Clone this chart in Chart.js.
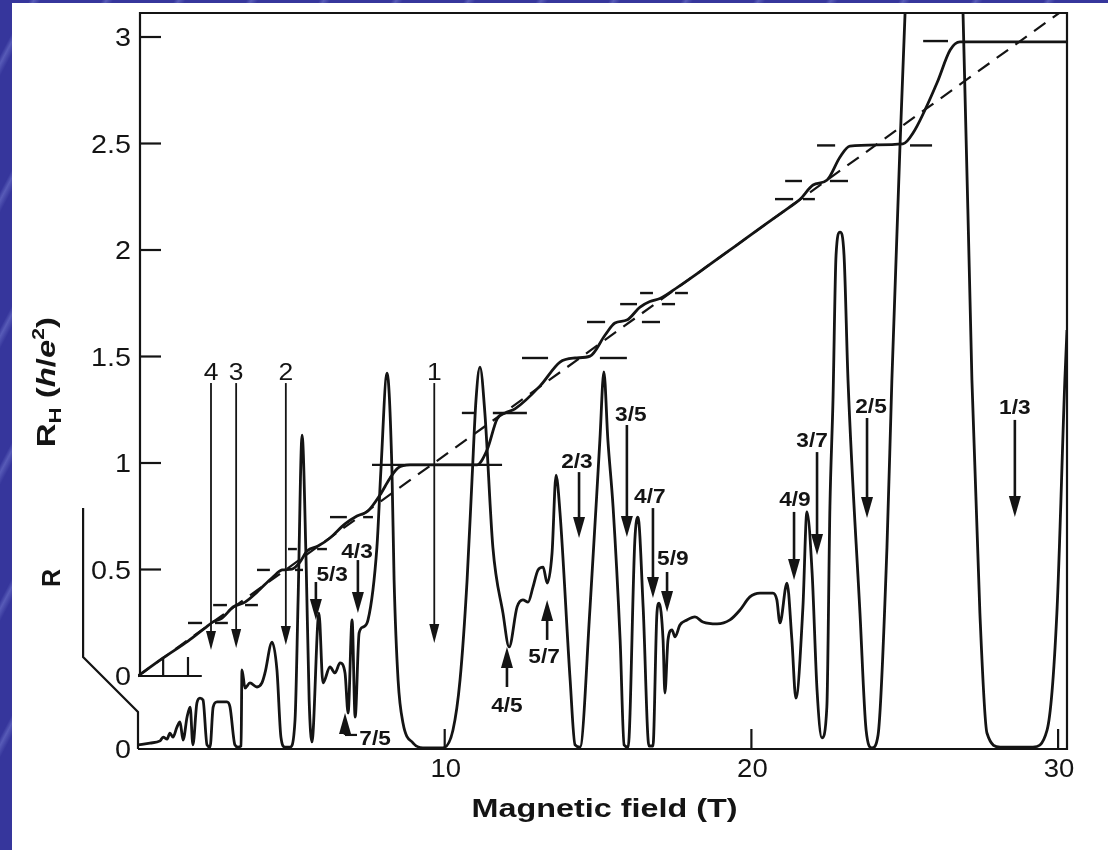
<!DOCTYPE html>
<html>
<head>
<meta charset="utf-8">
<script src="https://cdn.jsdelivr.net/npm/chart.js@4.4.0/dist/chart.umd.min.js"></script>
<style>
html, body { margin: 0; padding: 0; width: 1108px; height: 850px; overflow: hidden; }
body {
	background-color: #36369c;
	background-image: repeating-linear-gradient(118deg, rgba(255,255,255,0) 0px, rgba(255,255,255,0) 26px, rgba(150,160,235,0.35) 30px, rgba(255,255,255,0) 36px, rgba(255,255,255,0) 64px);
}
#paper { position: absolute; left: 12px; top: 3px; right: 0; bottom: 0; background: #fff; }
#wrap { position: absolute; left: 0; top: 0; width: 1108px; height: 850px; }
</style>
</head>
<body>
<div id="paper"></div>
<div id="wrap"><canvas id="chart" width="1108" height="850"></canvas></div>
<script>
// magnetic field (T) / Hall resistance R_H (h/e^2)
var hallB = [0,0.82,1.63,2.18,2.45,2.74,3.10,3.49,3.88,4.40,4.70,5.02,5.28,5.51,5.87,6.26,6.75,7.14,7.50,7.89,8.22,8.48,8.87,11.05,11.38,11.71,11.97,12.29,13.11,13.76,14.25,14.74,15.23,15.55,15.94,16.37,16.69,17.02,17.6,18.5,19.5,20.5,21.2,21.58,22.01,22.47,22.89,23.21,24.94,25.27,26.05,26.48,26.80,30.29];
var hallR = [0,0.085,0.164,0.225,0.254,0.272,0.324,0.347,0.394,0.465,0.498,0.502,0.535,0.587,0.610,0.648,0.714,0.751,0.775,0.850,0.930,0.977,0.991,0.991,1.061,1.207,1.235,1.254,1.362,1.474,1.493,1.502,1.601,1.657,1.671,1.732,1.758,1.772,1.826,1.917,2.021,2.125,2.197,2.237,2.305,2.329,2.437,2.488,2.498,2.549,2.784,2.939,2.977,2.977];

// classical Hall line (dashed)
var classicalB = [0, 30.29];
var classicalR = [0, 3.139];

// longitudinal resistance R (arb. units)
var resB = [0,0.39,0.72,0.82,0.95,1.04,1.14,1.27,1.37,1.47,1.60,1.70,1.79,1.92,2.02,2.12,2.25,2.35,2.45,2.58,2.90,3.00,3.16,3.26,3.36,3.39,3.49,3.65,3.88,4.04,4.14,4.37,4.53,4.66,4.79,4.96,5.12,5.22,5.35,5.48,5.58,5.67,5.90,6.03,6.26,6.42,6.59,6.75,6.85,6.98,7.08,7.21,7.34,7.50,7.79,7.92,8.12,8.28,8.35,8.48,8.64,8.97,9.29,9.94,10.27,10.50,10.73,10.89,11.02,11.15,11.31,11.57,11.90,12.10,12.36,12.55,12.72,12.88,13.04,13.21,13.34,13.50,13.63,13.76,14.09,14.25,14.41,14.74,15.06,15.19,15.32,15.49,15.72,15.85,15.98,16.20,16.30,16.47,16.66,16.79,16.92,16.99,17.12,17.18,17.28,17.41,17.51,17.67,17.90,18.16,18.42,18.88,19.30,19.63,19.95,20.28,20.70,20.83,20.93,21.16,21.32,21.45,21.68,21.81,21.98,22.14,22.30,22.46,22.56,22.66,22.76,22.89,23.02,23.15,23.54,23.74,23.93,24.13,24.42,24.58,24.84,25.01,25.5,26.4,26.90,27.19,27.45,27.68,28.11,29.18,29.64,29.96,30.22,30.29];
var resR = [0.019,0.028,0.038,0.056,0.047,0.075,0.056,0.103,0.127,0.042,0.150,0.197,0.019,0.216,0.239,0.230,0.019,0.009,0.197,0.221,0.221,0.197,0.019,0.009,0.014,0.371,0.286,0.310,0.291,0.310,0.357,0.502,0.371,0.056,0.009,0.009,0.136,0.700,1.474,0.887,0.230,0.033,0.638,0.310,0.385,0.357,0.404,0.357,0.169,0.606,0.150,0.545,0.573,0.606,0.948,1.310,1.765,1.310,0.793,0.324,0.122,0.028,0.005,0.005,0.089,0.324,0.793,1.263,1.638,1.793,1.577,0.948,0.638,0.479,0.667,0.700,0.690,0.761,0.840,0.854,0.779,0.920,1.286,1.108,0.324,0.019,0.009,0.667,1.451,1.770,1.451,1.136,0.512,0.019,0.009,0.981,1.089,0.667,0.014,0.014,0.638,0.685,0.512,0.263,0.512,0.559,0.526,0.582,0.606,0.620,0.596,0.587,0.606,0.653,0.714,0.732,0.732,0.700,0.592,0.779,0.512,0.239,0.667,1.113,0.826,0.277,0.052,0.197,1.136,1.638,2.319,2.427,2.319,1.732,0.638,0.089,0.005,0.066,0.948,1.732,2.812,3.455,5.0,5.0,3.455,1.732,0.638,0.075,0.009,0.009,0.089,0.638,1.732,1.967];

// quantized levels (short marks either side of the curve)
var levelValues = [0.249,0.333,0.498,0.596,0.746,0.991,1.235,1.493,1.662,1.746,1.798,2.239,2.324,2.491,2.981];
var levelSpans = [
	[[1.63,2.09],[2.51,2.93]],
	[[2.45,2.90],[3.49,3.91]],
	[[3.88,4.30],[5.12,5.38]],
	[[4.89,5.18],[5.84,6.16]],
	[[6.26,6.81],[7.34,7.66]],
	[[7.63,11.87]],
	[[10.56,11.02],[11.57,12.68]],
	[[12.52,13.37],[15.06,15.94]],
	[[14.64,15.23],[16.43,17.02]],
	[[15.72,16.27],[17.08,17.51]],
	[[16.37,16.79],[17.51,17.93]],
	[[20.77,21.36],[21.68,22.07]],
	[[21.10,21.65],[22.56,23.15]],
	[[22.14,22.73],[25.17,25.89]],
	[[25.60,26.41]]
];

// filling factor arrows (positions in B and R units)
var arrowLabels = ['4','3','2','1','5/3','4/3','7/5','4/5','5/7','2/3','3/5','4/7','5/9','4/9','3/7','2/5','1/3'];
var arrowB    = [2.38,3.20,4.82,9.66,5.80,7.17,6.75,12.03,13.34,14.38,15.94,16.79,17.25,21.39,22.14,23.77,28.59];
var arrowTail = [1.718,1.718,1.718,1.718,0.784,0.887,0.066,0.291,0.512,1.300,1.521,1.131,0.831,1.113,1.394,1.554,1.545];
var arrowTip  = [0.465,0.474,0.488,0.498,0.606,0.638,0.169,0.479,0.700,0.991,0.995,0.709,0.643,0.793,0.911,1.085,1.089];
var labelB    = [2.38,3.20,4.82,9.66,6.33,7.14,7.73,12.03,13.24,14.31,16.07,16.69,17.44,21.42,21.98,23.90,28.59];
var labelR    = [1.770,1.770,1.770,1.770,0.822,0.934,0.056,0.207,0.441,1.357,1.577,1.192,0.897,1.178,1.451,1.615,1.606];
var hookB     = [null,null,null,null,null,null,7.14,null,null,null,null,null,null,null,null,null,null];

// axes
var hallTicks = [0, 0.5, 1, 1.5, 2, 2.5, 3];
var hallTickLabels = ['0', '0.5', '1', '1.5', '2', '2.5', '3'];
var fieldTicks = [10, 20, 30];
var smallFieldTicks = [0.82, 1.63];
var rAxisB = [-1.79, -1.79, 0, 0];
var rAxisR = [1.131, 0.432, 0.174, 0];

var INK = '#141414';
var FONT = "'Liberation Sans', Arial, Helvetica, sans-serif";

function toPoints(xs, ys) {
	var pts = new Array();
	xs.forEach(function(x, i) {
		pts.push({ x: x, y: ys[i] });
	});
	return pts;
}

function _setDatasets() {
	var datasets = new Array();

	datasets.push({
		data: toPoints(hallB, hallR),
		yAxisID: 'y',
		borderColor: INK,
		borderWidth: 2.8,
		cubicInterpolationMode: 'monotone',
		pointRadius: 0,
		fill: false
	});

	datasets.push({
		data: toPoints(classicalB, classicalR),
		yAxisID: 'y',
		borderColor: INK,
		borderWidth: 2.2,
		borderDash: [14, 9],
		pointRadius: 0,
		fill: false
	});

	datasets.push({
		data: toPoints(resB, resR),
		yAxisID: 'yR',
		borderColor: INK,
		borderWidth: 2.8,
		cubicInterpolationMode: 'monotone',
		pointRadius: 0,
		fill: false
	});

	levelValues.forEach(function(v, i) {
		levelSpans[i].forEach(function(span) {
			datasets.push({
				data: [{ x: span[0], y: v }, { x: span[1], y: v }],
				yAxisID: 'y',
				borderColor: INK,
				borderWidth: 2.4,
				pointRadius: 0,
				fill: false
			});
		});
	});

	return datasets;
}

function drawText(ctx, s, x, y, font, size, sx, align) {
	ctx.save();
	ctx.translate(x, y);
	ctx.scale(sx, 1);
	ctx.font = font;
	ctx.textAlign = align || 'center';
	ctx.textBaseline = 'alphabetic';
	ctx.fillText(s, 0, size * 0.36);
	ctx.restore();
}

function drawArrow(ctx, x, yTail, yTip, w, len, lw) {
	var dir = yTip > yTail ? 1 : -1;
	ctx.lineWidth = lw;
	ctx.beginPath();
	ctx.moveTo(x, yTail);
	ctx.lineTo(x, yTip - dir * len * 0.7);
	ctx.stroke();
	ctx.beginPath();
	ctx.moveTo(x, yTip);
	ctx.lineTo(x - w / 2, yTip - dir * len);
	ctx.lineTo(x + w / 2, yTip - dir * len);
	ctx.closePath();
	ctx.fill();
}

var decorPlugin = {
	id: 'decor',
	afterDatasetsDraw: function(chart) {
		var ctx = chart.ctx;
		var a = chart.chartArea;
		var xs = chart.scales.x, ys = chart.scales.y, rs = chart.scales.yR;
		var y0 = ys.getPixelForValue(0);

		ctx.save();
		ctx.strokeStyle = INK;
		ctx.fillStyle = INK;
		ctx.lineWidth = 2.2;
		ctx.lineJoin = 'miter';

		// frame: R_H axis, top, right, bottom
		ctx.beginPath();
		ctx.moveTo(a.left + 2, y0);
		ctx.lineTo(a.left + 2, a.top);
		ctx.lineTo(a.right, a.top);
		ctx.lineTo(a.right, a.bottom);
		ctx.lineTo(a.left, a.bottom);
		ctx.stroke();

		// R_H zero line with its two small ticks
		ctx.beginPath();
		ctx.moveTo(a.left, y0);
		ctx.lineTo(xs.getPixelForValue(2.08), y0);
		smallFieldTicks.forEach(function(b) {
			var px = xs.getPixelForValue(b);
			ctx.moveTo(px, y0);
			ctx.lineTo(px, y0 - 19);
		});
		ctx.stroke();

		// broken R axis
		ctx.beginPath();
		rAxisB.forEach(function(b, i) {
			var px = xs.getPixelForValue(b), py = rs.getPixelForValue(rAxisR[i]);
			if (i === 0) ctx.moveTo(px, py); else ctx.lineTo(px, py);
		});
		ctx.stroke();

		// R_H ticks and labels
		hallTicks.forEach(function(v, i) {
			var py = ys.getPixelForValue(v);
			if (v > 0) {
				ctx.beginPath();
				ctx.moveTo(a.left + 2, py);
				ctx.lineTo(a.left + 23, py);
				ctx.stroke();
			}
			drawText(ctx, hallTickLabels[i], a.left - 7, py, '25px ' + FONT, 25, 1.15, 'right');
		});
		drawText(ctx, '0', a.left - 7, rs.getPixelForValue(0), '25px ' + FONT, 25, 1.15, 'right');

		// field ticks and labels
		fieldTicks.forEach(function(b) {
			var px = xs.getPixelForValue(b);
			ctx.beginPath();
			ctx.moveTo(px, a.bottom);
			ctx.lineTo(px, a.bottom - 20);
			ctx.stroke();
			drawText(ctx, String(b), px + 1, a.bottom + 19, '25px ' + FONT, 25, 1.1, 'center');
		});

		// arrows
		arrowLabels.forEach(function(lab, i) {
			var px = xs.getPixelForValue(arrowB[i]);
			var pTail = rs.getPixelForValue(arrowTail[i]);
			var pTip = rs.getPixelForValue(arrowTip[i]);
			var big = lab.indexOf('/') >= 0;
			if (big) {
				drawArrow(ctx, px, pTail, pTip, 12, 21, 2.6);
			} else {
				drawArrow(ctx, px, pTail, pTip, 10, 19, 1.8);
			}
			if (hookB[i] !== null) {
				ctx.lineWidth = 2.2;
				ctx.beginPath();
				ctx.moveTo(px, pTail);
				ctx.lineTo(xs.getPixelForValue(hookB[i]), pTail);
				ctx.stroke();
			}
			var lx = xs.getPixelForValue(labelB[i]), ly = rs.getPixelForValue(labelR[i]);
			if (big) {
				drawText(ctx, lab, lx, ly, 'bold 21px ' + FONT, 21, 1.08, 'center');
			} else {
				drawText(ctx, lab, lx, ly, '23px ' + FONT, 23, 1.15, 'center');
			}
		});

		// x title
		ctx.save();
		ctx.font = 'bold 26px ' + FONT;
		var tw = ctx.measureText('Magnetic field (T)').width;
		ctx.translate((a.left + a.right) / 2 + 2, a.bottom + 68);
		ctx.scale(266 / tw, 1);
		ctx.textAlign = 'center';
		ctx.fillText('Magnetic field (T)', 0, 0);
		ctx.restore();

		// y title R_H (h/e^2), rotated
		var parts = [
			['R', 'bold 25px ' + FONT, 0],
			['H', 'bold 17px ' + FONT, 6],
			[' (', 'bold 25px ' + FONT, 0],
			['h', 'italic bold 25px ' + FONT, 0],
			['/', 'bold 25px ' + FONT, 0],
			['e', 'italic bold 25px ' + FONT, 0],
			['2', 'bold 16px ' + FONT, -11],
			[')', 'bold 25px ' + FONT, 0]
		];
		var total = 0;
		parts.forEach(function(p) { ctx.font = p[1]; total += ctx.measureText(p[0]).width; });
		ctx.save();
		ctx.translate(55, rs.getPixelForValue(1.417));
		ctx.rotate(-Math.PI / 2);
		ctx.scale(130 / total, 1);
		ctx.textAlign = 'left';
		var cx = 0;
		parts.forEach(function(p) {
			ctx.font = p[1];
			ctx.fillText(p[0], cx, p[2]);
			cx += ctx.measureText(p[0]).width;
		});
		ctx.restore();

		// R label
		ctx.save();
		ctx.translate(60, rs.getPixelForValue(0.803));
		ctx.rotate(-Math.PI / 2);
		ctx.font = 'bold 25px ' + FONT;
		ctx.textAlign = 'center';
		ctx.fillText('R', 0, 0);
		ctx.restore();

		ctx.restore();
	}
};

var _config = {
	type: 'line',
	data: { datasets: _setDatasets() },
	options: {
		responsive: false,
		animation: false,
		events: [],
		layout: { padding: { left: 138, top: 13, right: 41, bottom: 101 } },
		plugins: { legend: { display: false }, tooltip: { enabled: false } },
		elements: { point: { radius: 0 }, line: { borderCapStyle: 'butt' } },
		scales: {
			x: { type: 'linear', min: 0, max: 30.29, display: false },
			y: { type: 'linear', min: -0.3427, max: 3.1127, display: false },
			yR: { type: 'linear', min: 0, max: 3.4554, display: false }
		}
	},
	plugins: [decorPlugin]
};

var myChart = new Chart(document.getElementById('chart'), _config);
</script>
</body>
</html>
